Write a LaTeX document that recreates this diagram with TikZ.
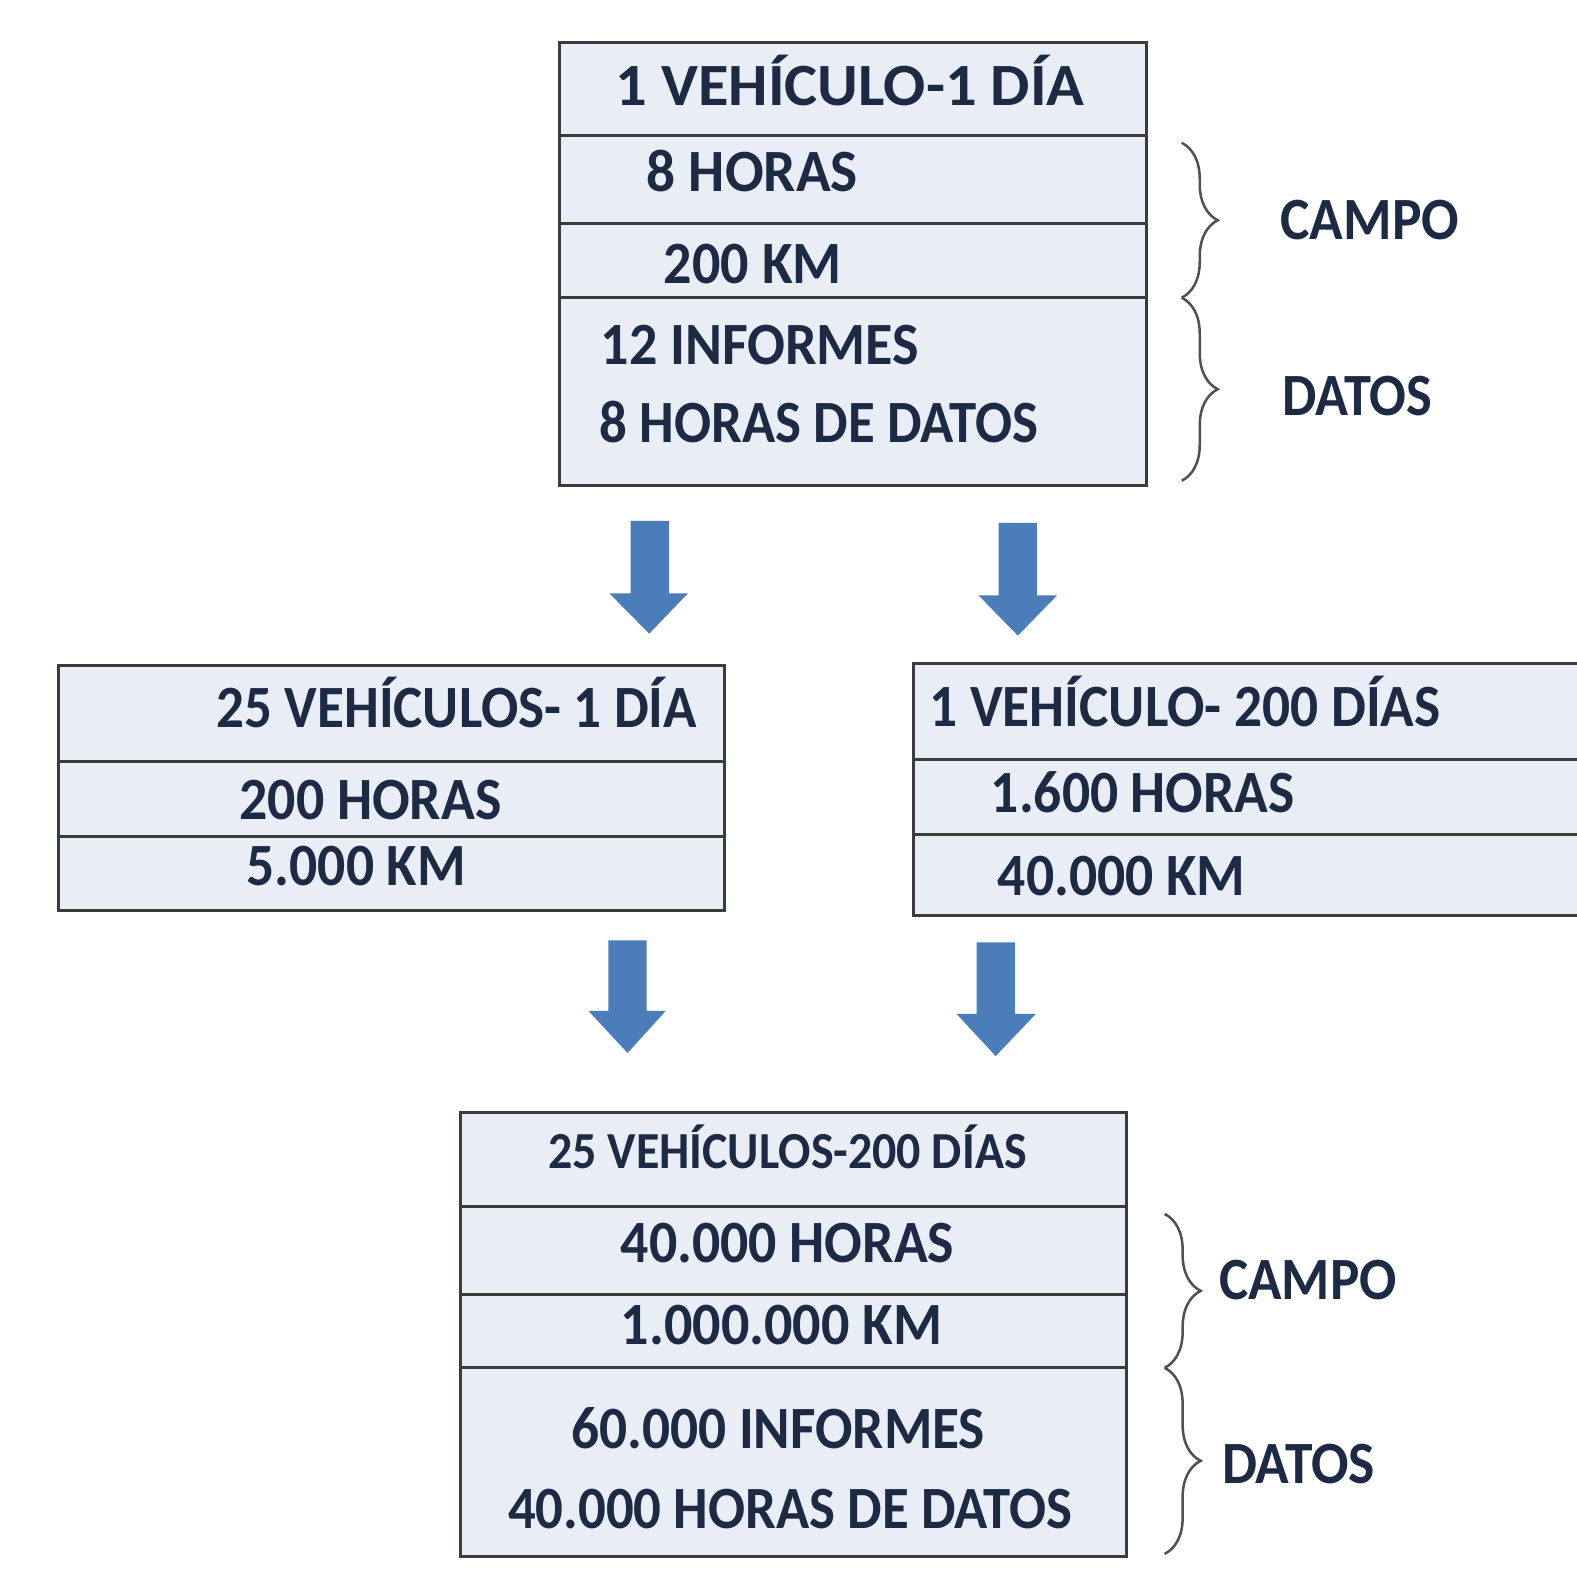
\documentclass[tikz,border=0pt]{standalone}
\usepackage{fontspec}
\setmainfont{Carlito}
\usetikzlibrary{decorations.pathreplacing}
\definecolor{txt}{HTML}{1C2A44}
\definecolor{cellfill}{HTML}{E9EDF6}
\definecolor{cellline}{HTML}{3C3C3C}
\definecolor{arrowblue}{HTML}{4A7DBA}
\definecolor{bracecol}{HTML}{505050}
\newcommand{\sq}[2]{\scalebox{#1}[1]{#2}}
\begin{document}
\begin{tikzpicture}[x=1.0057pt,y=-1.0057pt,
  cell/.style={draw=cellline,line width=3pt,fill=cellfill},
  lbl/.style={anchor=base west,inner sep=0pt,text=txt,font=\fontsize{60}{60}\selectfont\bfseries},
  lblsmall/.style={lbl,font=\fontsize{52}{52}\selectfont\bfseries},
  bracestyle/.style={draw=bracecol,line width=2.5pt,decorate,decoration={brace,amplitude=36pt}},
  blockarrow/.style={fill=arrowblue}
]
\useasboundingbox (0,0) rectangle (1568,1565);
\fill[white] (0,0) rectangle (1568,1565);

% ---------- top box ----------
\draw[cell] (556,42) rectangle (1140,483);
\draw[cellline,line width=3pt] (556,135) -- (1140,135) (556,222) -- (1140,222) (556,296) -- (1140,296);
\node[lbl] (t1) at (612,105) {\sq{1.04}{1 VEHÍCULO-1 DÍA}};
\node[lbl] (t2) at (643,190) {\sq{0.955}{8 HORAS}};
\node[lbl] (t3) at (660,282) {\sq{0.935}{200 KM}};
\node[lbl] (t4) at (597,362) {\sq{0.934}{12 INFORMES}};
\node[lbl] (t5) at (596,440) {\sq{0.914}{8 HORAS DE DATOS}};
\coordinate (tb1) at (1175,142);
\coordinate (tb2) at (1175,296);
\coordinate (tb3) at (1175,478);
\draw[bracestyle] (tb1) -- (tb2);
\draw[bracestyle] (tb2) -- (tb3);
\node[lbl] (tcampo) at (1273,238) {\sq{0.926}{CAMPO}};
\node[lbl] (tdatos) at (1275,413) {\sq{0.907}{DATOS}};

% ---------- arrows ----------
\fill[blockarrow] (627,518) -- (665,518) -- (665,590) -- (684,590) -- (645.5,630) -- (606,590) -- (627,590) -- cycle;
\fill[blockarrow] (993,520) -- (1031,520) -- (1031,592) -- (1051,592) -- (1012,632) -- (973,592) -- (993,592) -- cycle;
\fill[blockarrow] (605,935) -- (643,935) -- (643,1005) -- (662,1005) -- (624,1047) -- (585,1005) -- (605,1005) -- cycle;
\fill[blockarrow] (971,937) -- (1009,937) -- (1009,1008) -- (1030,1008) -- (990,1050) -- (951,1008) -- (971,1008) -- cycle;

% ---------- left middle box ----------
\draw[cell] (58,662) rectangle (720,905);
\draw[cellline,line width=3pt] (58,757) -- (720,757) (58,832) -- (720,832);
\node[lbl] (l1) at (215,723) {\sq{0.919}{25 VEHÍCULOS- 1 DÍA}};
\node[lbl] (l2) at (238,815) {\sq{0.93}{200 HORAS}};
\node[lbl] (l3) at (245,880) {\sq{0.927}{5.000 KM}};

% ---------- right middle box ----------
\draw[cell] (908,660) rectangle (1590,910);
\draw[cellline,line width=3pt] (908,755) -- (1590,755) (908,830) -- (1590,830);
\node[lbl] (r1) at (924,722) {\sq{0.923}{1 VEHÍCULO- 200 DÍAS}};
\node[lbl] (r2) at (985,808) {\sq{0.926}{1.600 HORAS}};
\node[lbl] (r3) at (992,890) {\sq{0.927}{40.000 KM}};

% ---------- bottom box ----------
\draw[cell] (458,1106) rectangle (1120,1548);
\draw[cellline,line width=3pt] (458,1200) -- (1120,1200) (458,1287) -- (1120,1287) (458,1360) -- (1120,1360);
\node[lblsmall] (b1) at (545,1162) {\sq{0.922}{25 VEHÍCULOS-200 DÍAS}};
\node[lbl] (b2) at (617,1255) {\sq{0.93}{40.000 HORAS}};
\node[lbl] (b3) at (617,1337) {\sq{0.935}{1.000.000 KM}};
\node[lbl] (b4) at (568,1440) {\sq{0.923}{60.000 INFORMES}};
\node[lbl] (b5) at (505,1520) {\sq{0.913}{40.000 HORAS DE DATOS}};
\coordinate (bb1) at (1158,1207);
\coordinate (bb2) at (1158,1360);
\coordinate (bb3) at (1158,1545);
\draw[bracestyle] (bb1) -- (bb2);
\draw[bracestyle] (bb2) -- (bb3);
\node[lbl] (bcampo) at (1212,1292) {\sq{0.92}{CAMPO}};
\node[lbl] (bdatos) at (1215,1475) {\sq{0.925}{DATOS}};
\end{tikzpicture}
\end{document}
